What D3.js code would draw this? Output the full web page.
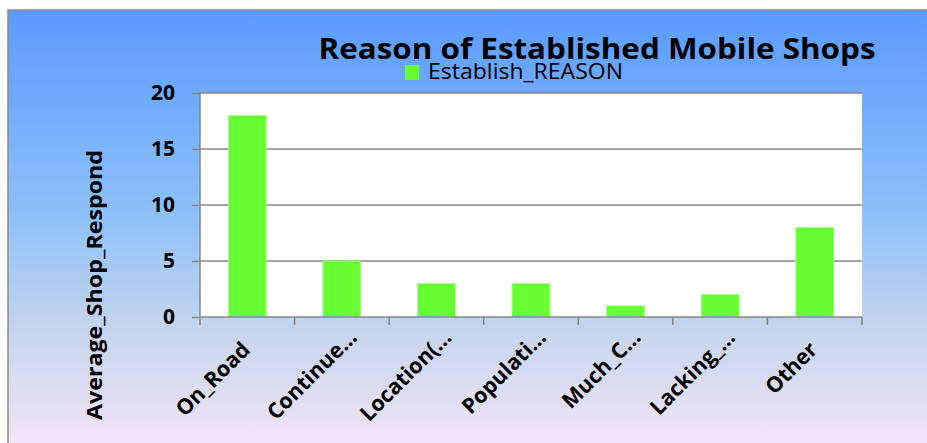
<!DOCTYPE html>
<html><head><meta charset="utf-8">
<script src="https://cdn.jsdelivr.net/npm/d3@7"></script>
<style>html,body{margin:0;padding:0;background:#fff;overflow:hidden}</style>
</head><body>
<svg id="chart" width="927" height="443"></svg>
<script>
const categories = ["On_Road","Continue…","Location(…","Populati…","Much_C…","Lacking_…","Other"];
const values = [18,5,3,3,1,2,8];
const yTicks = [0,5,10,15,20];
const title = "Reason of Established Mobile Shops";
const seriesName = "Establish_REASON";
const yTitle = "Average_Shop_Respond";

const svg = d3.select("#chart");
const W = 927, H = 443;
const font = "'Open Sans', Lato, sans-serif";

const defs = svg.append("defs");
const grad = defs.append("linearGradient").attr("id","bg").attr("x1",0).attr("y1",0).attr("x2",0).attr("y2",1);
[[0,"#5a9afd"],[0.45,"#8cc0fb"],[0.72,"#c5d5ee"],[1,"#f7e6f8"]].forEach(([o,c])=>grad.append("stop").attr("offset",o).attr("stop-color",c));

svg.append("rect").attr("x",8).attr("y",10).attr("width",W).attr("height",H)
  .attr("fill","url(#bg)").attr("stroke","#8c8c8c").attr("stroke-width",1.5);

const plot = {l:200, t:93, r:862, b:317};
const x = d3.scaleBand().domain(categories).range([plot.l, plot.r]).paddingInner(0.6).paddingOuter(0.3);
const y = d3.scaleLinear().domain([0,20]).range([plot.b, plot.t]);

svg.append("rect").attr("x",plot.l).attr("y",plot.t).attr("width",plot.r-plot.l).attr("height",plot.b-plot.t).attr("fill","#fff");

// gridlines
svg.append("g").selectAll("line").data(yTicks.filter(d=>d>0)).join("line")
  .attr("x1",plot.l).attr("x2",plot.r).attr("y1",d=>y(d)).attr("y2",d=>y(d))
  .attr("stroke","#868686").attr("stroke-width",1.5);

// bars
svg.append("g").selectAll("rect").data(values).join("rect")
  .attr("x",(d,i)=>x(categories[i])).attr("width",x.bandwidth())
  .attr("y",d=>y(d)).attr("height",d=>y(0)-y(d))
  .attr("fill","#66ff33").attr("stroke","#a8ff8c").attr("stroke-width",0.8);

// y axis
const yAxis = d3.axisLeft(y).tickValues(yTicks).tickSize(8).tickPadding(17);
const ya = svg.append("g").attr("transform",`translate(${plot.l},0)`).call(yAxis);
ya.select(".domain").attr("stroke","#868686").attr("stroke-width",1.5).attr("d",`M0,${plot.t}V${plot.b}`);
ya.selectAll(".tick line").attr("stroke","#868686").attr("stroke-width",1.5);
ya.selectAll(".tick text").attr("font-family",font).attr("font-weight","bold").attr("font-size",21).attr("fill","#000");

// x axis
const step = x.step();
const bounds = d3.range(categories.length+1).map(i=>plot.l + i*step);
const xa = svg.append("g");
xa.append("line").attr("x1",plot.l).attr("x2",plot.r).attr("y1",plot.b).attr("y2",plot.b).attr("stroke","#868686").attr("stroke-width",1.5);
xa.selectAll("line.t").data(bounds).join("line").attr("class","t")
  .attr("x1",d=>d).attr("x2",d=>d).attr("y1",plot.b).attr("y2",plot.b+8)
  .attr("stroke","#868686").attr("stroke-width",1.5);
// measure ellipsis width (truncated labels overhang by the ellipsis)
const xFont = 21.5;
const tmp = svg.append("text").attr("font-family",font).attr("font-weight","bold").attr("font-size",xFont).text("…");
const ellW = tmp.node().getComputedTextLength();
tmp.remove();
xa.selectAll("text").data(categories).join("text")
  .attr("transform",d=>`translate(${x(d)+x.bandwidth()/2+4},${plot.b+34}) rotate(-45)`)
  .attr("x",d=>d.endsWith("…") ? ellW*0.95 : 0)
  .attr("text-anchor","end").attr("font-family",font).attr("font-weight","bold").attr("font-size",xFont).attr("fill","#000")
  .text(d=>d);

// title
svg.append("text").attr("x",597).attr("y",59).attr("text-anchor","middle")
  .attr("font-family",font).attr("font-weight","bold").attr("font-size",29).attr("fill","#000")
  .attr("textLength",557).attr("lengthAdjust","spacingAndGlyphs").text(title);

// legend
svg.append("rect").attr("x",405).attr("y",65).attr("width",14).attr("height",15).attr("fill","#66ff33");
svg.append("text").attr("x",428).attr("y",79).attr("font-family",font).attr("font-size",21).attr("fill","#000")
  .attr("textLength",195).attr("lengthAdjust","spacingAndGlyphs").text(seriesName);

// y title
svg.append("text").attr("transform","translate(102,285) rotate(-90)").attr("text-anchor","middle")
  .attr("font-family",font).attr("font-weight","bold").attr("font-size",22).attr("fill","#000")
  .attr("textLength",270).attr("lengthAdjust","spacingAndGlyphs").text(yTitle);
</script>
</body></html>
